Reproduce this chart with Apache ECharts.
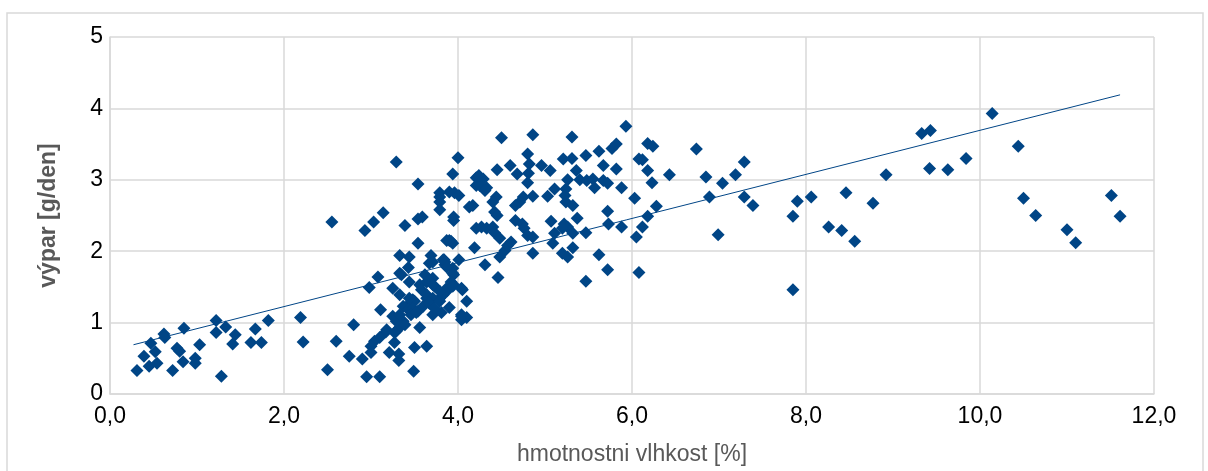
<!DOCTYPE html>
<html>
<head>
<meta charset="utf-8">
<script src="https://cdn.jsdelivr.net/npm/echarts@6/dist/echarts.min.js"></script>
<style>
  html, body { margin: 0; padding: 0; background: #fff; }
  #chart { width: 1208px; height: 471px; }
</style>
</head>
<body>
<div id="chart"></div>
<script>
  // hmotnostni vlhkost [%] (x) / výpar [g/den] (y)
  var moistureX = [
    0.31, 0.39, 0.45, 0.47, 0.52, 0.54, 0.62, 0.63, 0.72, 0.77, 0.80, 0.85, 0.84, 0.98, 0.98, 1.03,
    1.22, 1.22, 1.28, 1.33, 1.44, 1.41, 1.62, 1.67, 1.74, 1.82, 2.19, 2.22, 2.50, 2.60,
    3.54, 3.92, 3.94, 4.19, 2.75, 2.80, 2.90, 2.95, 3.10, 2.98, 3.08, 3.11, 3.33, 3.44, 3.69, 3.67,
    3.84, 4.01, 3.43, 3.33, 3.94, 3.95, 3.95, 4.05, 4.10, 3.90, 4.04, 4.10, 3.25, 3.44, 3.33, 3.56,
    3.64, 3.71, 3.73, 3.87, 3.79, 3.64, 3.48, 3.41, 3.54, 3.71, 3.81, 3.31, 3.37, 3.33, 3.17, 3.10,
    3.04, 3.00, 3.00, 3.27, 3.21, 3.32, 3.32, 3.50, 3.64, 3.56, 3.49, 3.29,
    3.29, 4.00, 3.94, 3.54, 3.79, 3.90, 3.96, 4.01, 3.79, 3.79, 4.13, 4.17, 3.95, 3.95, 2.55, 2.93,
    3.03, 3.14, 3.39, 3.54, 3.59, 3.90, 4.21, 4.21, 4.21,
    4.50, 4.86, 5.31, 5.93, 4.80, 4.60, 4.45, 4.68, 4.82, 4.81, 4.96, 5.06, 5.21, 5.31, 5.47, 5.62,
    5.77, 5.82, 5.67, 5.82, 5.36, 6.08, 4.24, 4.29, 4.25, 4.33, 4.31, 4.80, 5.26, 5.40, 5.48, 5.55,
    5.57, 5.67, 5.72, 5.88, 6.03, 5.11, 5.24, 5.23, 5.24, 5.32, 5.03, 4.86, 4.75, 4.71, 4.66, 4.44,
    4.40, 4.42, 4.45, 3.87, 3.83, 3.85, 3.94, 3.87, 3.83, 4.31, 4.46, 4.48, 4.54, 4.57, 4.61, 4.27,
    4.33, 4.40, 4.42, 4.48, 4.66, 4.74, 4.76, 4.80, 4.86, 4.86, 5.07, 5.11, 5.09, 5.22, 5.26, 5.20,
    5.32, 5.37, 5.20, 5.26, 5.32, 5.47, 5.47, 5.62, 5.72, 5.72, 5.73, 5.88, 6.05, 3.79,
    6.18, 6.24, 6.12, 6.18, 6.23, 6.43, 6.74, 6.85, 7.04, 7.19, 7.29, 7.29, 7.39, 6.89, 6.28, 6.18,
    6.12, 6.99, 6.08, 7.85, 7.90, 8.06, 7.85, 8.26, 8.41, 8.56, 8.46, 8.77, 8.92,
    9.33, 9.43, 10.14, 9.42, 9.63, 9.84, 10.44, 10.50, 10.64, 11.00, 11.10, 11.51, 11.61,
    3.71, 3.85, 3.87, 3.35, 3.62, 3.67, 3.71, 3.58, 3.92, 3.94, 4.04, 3.79, 3.64, 3.71, 3.44, 3.50,
    3.37, 3.43, 3.48, 3.60, 3.67, 3.73, 3.79, 3.25, 3.29, 3.33, 3.46, 3.52, 4.04, 4.04, 3.18, 3.27,
    3.39
  ];
  var evaporationY = [
    0.33, 0.53, 0.39, 0.71, 0.59, 0.43, 0.84, 0.79, 0.33, 0.64, 0.60, 0.92, 0.45, 0.50, 0.43, 0.69,
    1.03, 0.86, 0.25, 0.94, 0.83, 0.70, 0.72, 0.91, 0.72, 1.03, 1.07, 0.73, 0.34, 0.74,
    2.11, 2.14, 2.11, 2.05, 0.53, 0.97, 0.49, 0.24, 0.24, 1.49, 1.64, 1.18, 1.94, 1.92, 1.94, 1.83,
    1.88, 1.88, 1.77, 1.69, 1.76, 1.67, 1.53, 1.46, 1.30, 1.21, 1.09, 1.07, 1.48, 1.57, 1.39, 1.53,
    1.57, 1.62, 1.51, 1.44, 1.34, 1.34, 1.32, 1.23, 1.16, 1.11, 1.14, 1.07, 1.02, 0.93, 0.87, 0.79,
    0.74, 0.67, 0.58, 0.72, 0.58, 0.56, 0.47, 0.65, 0.67, 0.93, 0.32, 0.88,
    3.25, 3.31, 3.08, 2.94, 2.82, 2.83, 2.82, 2.78, 2.69, 2.58, 2.62, 2.64, 2.48, 2.43, 2.41, 2.29,
    2.41, 2.54, 2.36, 2.45, 2.48, 2.15, 3.03, 2.92, 2.32,
    3.59, 3.63, 3.60, 3.75, 3.36, 3.20, 3.14, 3.08, 3.22, 3.09, 3.20, 3.13, 3.29, 3.30, 3.34, 3.40,
    3.44, 3.50, 3.20, 3.15, 3.13, 3.29, 3.06, 3.01, 2.92, 2.89, 2.85, 2.96, 3.00, 3.00, 2.99, 3.01,
    2.89, 2.99, 2.95, 2.89, 2.74, 2.87, 2.87, 2.78, 2.69, 2.64, 2.77, 2.77, 2.76, 2.69, 2.64, 2.76,
    2.69, 2.55, 2.50, 2.15, 1.88, 1.81, 1.69, 1.48, 1.39, 1.81, 1.63, 1.92, 2.01, 2.08, 2.13, 2.34,
    2.32, 2.34, 2.26, 2.18, 2.43, 2.38, 2.32, 2.22, 2.20, 1.97, 2.42, 2.25, 2.11, 2.38, 2.34, 2.32,
    2.25, 2.46, 1.97, 1.92, 2.05, 2.26, 1.58, 1.95, 1.74, 2.56, 2.38, 2.34, 2.20, 2.76,
    3.51, 3.47, 3.28, 3.13, 2.96, 3.07, 3.43, 3.04, 2.95, 3.07, 3.25, 2.76, 2.64, 2.76, 2.63, 2.49,
    2.34, 2.23, 1.70, 2.49, 2.70, 2.76, 1.46, 2.34, 2.29, 2.14, 2.82, 2.67, 3.07,
    3.65, 3.69, 3.93, 3.16, 3.14, 3.30, 3.47, 2.74, 2.50, 2.30, 2.12, 2.78, 2.49,
    1.85, 1.85, 1.78, 1.67, 1.67, 1.60, 1.53, 1.46, 1.57, 1.51, 1.48, 1.44, 1.39, 1.34, 1.34, 1.30,
    1.23, 1.18, 1.20, 1.23, 1.27, 1.20, 1.30, 1.09, 1.02, 1.11, 1.11, 1.14, 1.11, 1.04, 0.90, 0.86,
    0.97
  ];
  // lineární trend
  var trendX = [0.27, 11.61];
  var trendY = [0.69, 4.19];
  var xTicks = [0, 2, 4, 6, 8, 10, 12];
  var yTicks = [0, 1, 2, 3, 4, 5];

  var color = '#004586';
  var gridColor = '#d9d9d9';
  var font = '"Liberation Sans", Arial, sans-serif';

  var points = moistureX.map(function (x, i) { return [x, evaporationY[i]]; });
  var trend = trendX.map(function (x, i) { return [x, trendY[i]]; });

  var myChart = echarts.init(document.getElementById('chart'));
  var option = {
    animation: false,
    textStyle: { fontFamily: font },
    graphic: [{
      type: 'rect',
      shape: { x: 7, y: 13, width: 1196, height: 480 },
      style: { fill: 'none', stroke: gridColor, lineWidth: 1.5 },
      silent: true
    }],
    grid: { left: 110, right: 54, top: 37, bottom: 74 },
    xAxis: {
      type: 'value',
      min: xTicks[0],
      max: xTicks[xTicks.length - 1],
      interval: xTicks[1] - xTicks[0],
      name: 'hmotnostni vlhkost [%]',
      nameLocation: 'middle',
      nameGap: 49,
      nameTextStyle: { color: '#595959', fontSize: 23, fontFamily: font },
      axisLine: { show: true, lineStyle: { color: gridColor, width: 1.5 } },
      axisTick: { show: false },
      splitLine: { show: true, lineStyle: { color: gridColor, width: 1.5 } },
      axisLabel: {
        color: '#000',
        fontSize: 23,
        margin: 11,
        fontFamily: font,
        formatter: function (v) { return v.toFixed(1).replace('.', ','); }
      }
    },
    yAxis: {
      type: 'value',
      min: yTicks[0],
      max: yTicks[yTicks.length - 1],
      interval: yTicks[1] - yTicks[0],
      name: 'výpar [g/den]',
      nameLocation: 'middle',
      nameGap: 50,
      nameRotate: 90,
      nameTextStyle: { color: '#595959', fontSize: 23, fontWeight: 'bold', fontFamily: font },
      axisLine: { show: true, lineStyle: { color: gridColor, width: 1.5 } },
      axisTick: { show: false },
      splitLine: { show: true, lineStyle: { color: gridColor, width: 1.5 } },
      axisLabel: { color: '#000', fontSize: 23, margin: 7, fontFamily: font }
    },
    series: [
      {
        type: 'scatter',
        symbol: 'diamond',
        symbolSize: 13,
        itemStyle: { color: color, opacity: 1 },
        data: points,
        z: 2
      },
      {
        type: 'line',
        symbol: 'none',
        lineStyle: { color: color, width: 1 },
        data: trend,
        z: 3
      }
    ]
  };
  myChart.setOption(option);
</script>
</body>
</html>
